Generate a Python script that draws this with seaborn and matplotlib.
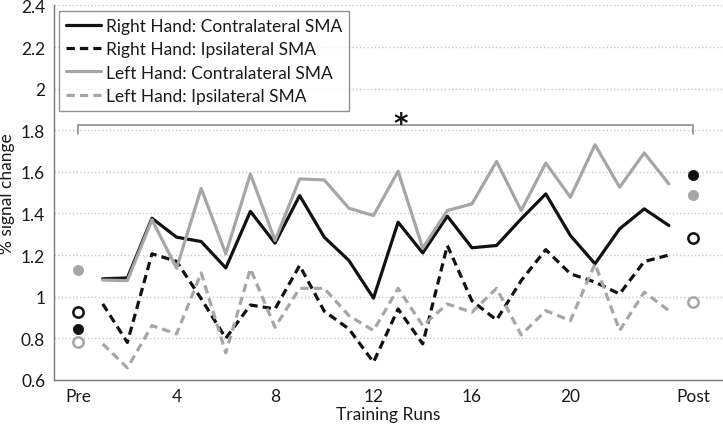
import numpy as np
import pandas as pd
import seaborn as sns
import matplotlib.pyplot as plt

# Training runs 1..24, Pre = 0, Post = 25
runs = list(range(1, 25))
right_contra = [1.086, 1.09, 1.377, 1.286, 1.265, 1.138, 1.41, 1.257, 1.486, 1.286, 1.174, 0.993,
                1.358, 1.21, 1.387, 1.235, 1.246, 1.374, 1.494, 1.294, 1.158, 1.326, 1.422, 1.342]
right_ipsi = [0.965, 0.78, 1.206, 1.17, 0.99, 0.80, 0.96, 0.941, 1.15, 0.93, 0.845, 0.685,
              0.941, 0.773, 1.246, 0.98, 0.888, 1.077, 1.226, 1.11, 1.07, 1.013, 1.169, 1.2]
left_contra = [1.08, 1.077, 1.37, 1.137, 1.52, 1.206, 1.59, 1.27, 1.566, 1.561, 1.425, 1.39,
               1.603, 1.233, 1.414, 1.446, 1.65, 1.414, 1.642, 1.478, 1.73, 1.526, 1.691, 1.542]
left_ipsi = [0.773, 0.658, 0.861, 0.821, 1.114, 0.73, 1.134, 0.853, 1.04, 1.04, 0.909, 0.837,
             1.04, 0.861, 0.965, 0.925, 1.04, 0.816, 0.933, 0.885, 1.158, 0.837, 1.022, 0.933]

# Pre / Post session values
pre = {"right_contra": 0.845, "right_ipsi": 0.925, "left_contra": 1.13, "left_ipsi": 0.781}
post = {"right_contra": 1.587, "right_ipsi": 1.283, "left_contra": 1.491, "left_ipsi": 0.973}

tick_pos = [0, 4, 8, 12, 16, 20, 25]
tick_labels = ["Pre", "4", "8", "12", "16", "20", "Post"]
labels = {
    "right_contra": "Right Hand: Contralateral SMA",
    "right_ipsi": "Right Hand: Ipsilateral SMA",
    "left_contra": "Left Hand: Contralateral SMA",
    "left_ipsi": "Left Hand: Ipsilateral SMA",
}

sns.set_style("white")
plt.rcParams["font.family"] = ["Lato", "DejaVu Sans"]
plt.rcParams["font.size"] = 12

black = "#111111"
gray = "#a6a6a6"
styles = {
    "right_contra": (black, "-"),
    "right_ipsi": (black, (0, (2.6, 1.6))),
    "left_contra": (gray, "-"),
    "left_ipsi": (gray, (0, (2.6, 1.6))),
}
series = {"right_contra": right_contra, "right_ipsi": right_ipsi,
          "left_contra": left_contra, "left_ipsi": left_ipsi}

fig = plt.figure(figsize=(7.23, 4.27), dpi=100)
ax = fig.add_axes([0.074, 0.108, 0.926, 0.877])

for key, vals in series.items():
    color, ls = styles[key]
    df = pd.DataFrame({"run": runs, "value": vals})
    sns.lineplot(data=df, x="run", y="value", ax=ax, color=color, linewidth=2.3,
                 linestyle=ls, label=labels[key])

# Pre / Post markers
for key in series:
    color, ls = styles[key]
    filled = ls == "-"
    pts = pd.DataFrame({"x": [0, 25], "y": [pre[key], post[key]]})
    sns.scatterplot(data=pts, x="x", y="y", ax=ax, s=55, zorder=5,
                    facecolor=color if filled else "white",
                    edgecolor=color, linewidth=1.8 if not filled else 0.5)

# significance bracket
ax.plot([0, 0, 25, 25], [1.78, 1.826, 1.826, 1.78], color="#8c8c8c", linewidth=1.2)
ax.text(13.1, 1.79, "*", ha="center", va="baseline", fontsize=20, fontweight="bold",
        color=black, family="DejaVu Sans")

ax.set_xlim(-1, 26.2)
ax.set_ylim(0.6, 2.4)
ax.set_xticks(tick_pos)
ax.set_xticklabels(tick_labels)
ax.set_yticks(np.arange(0.6, 2.41, 0.2))
ax.set_yticklabels(["0.6", "0.8", "1", "1.2", "1.4", "1.6", "1.8", "2", "2.2", "2.4"])
ax.yaxis.grid(True, linestyle=":", color="#c8c8c8", linewidth=1)
ax.set_axisbelow(True)
ax.tick_params(direction="in", length=4, color="#777777", labelsize=12.5, pad=6,
               labelcolor="#1a1a1a")
for side in ["top", "right"]:
    ax.spines[side].set_visible(False)
for side in ["left", "bottom"]:
    ax.spines[side].set_color("#777777")
    ax.spines[side].set_linewidth(1)

ax.set_xlabel("Training Runs", fontsize=12.5, labelpad=1, color="#1a1a1a")
ax.set_ylabel("% signal change", fontsize=12.5, labelpad=4, color="#1a1a1a")

leg = ax.legend(loc="upper left", bbox_to_anchor=(0.008, 0.985), frameon=True, fancybox=False,
                handlelength=2.0, handletextpad=0.3, borderpad=0.4, labelspacing=0.42,
                fontsize=12.5, borderaxespad=0)
leg.get_frame().set_edgecolor("#777777")
leg.get_frame().set_linewidth(1)
for t in leg.get_texts():
    t.set_color("#1a1a1a")

fig.savefig("out.png", dpi=100)
